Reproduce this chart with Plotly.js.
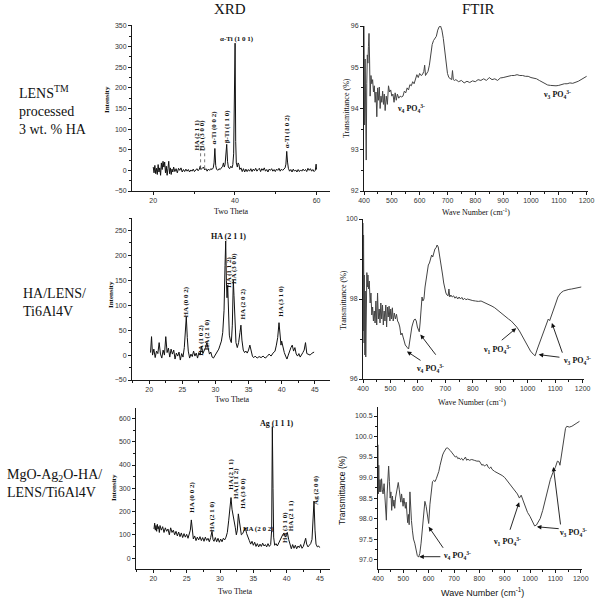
<!DOCTYPE html>
<html>
<head>
<meta charset="utf-8">
<script src="https://cdn.plot.ly/plotly-3.0.1.min.js"></script>
<style>
  body { margin: 0; background: #fff; }
  #plotArea { width: 600px; height: 602px; }
</style>
</head>
<body>
<div id="plotArea"></div>
<script>
// XRD, LENS processed 3 wt.% HA
var xrd1X = [20.0,20.2,20.4,20.6,20.8,21.0,21.2,21.4,21.6,21.8,22.0,22.2,22.4,22.6,22.8,23.0,23.2,23.4,23.6,23.8,24.0,24.2,24.4,24.6,24.8,25.0,25.3,25.6,25.9,26.2,26.5,26.8,27.1,27.4,27.7,28.0,28.3,28.6,28.9,29.2,29.5,29.8,30.1,30.4,30.7,31.0,31.3,31.5,31.7,32.0,32.3,32.6,32.9,33.2,33.5,33.8,34.1,34.4,34.7,34.9,35.1,35.3,35.5,35.8,36.1,36.4,36.7,37.0,37.2,37.4,37.6,37.8,38.0,38.2,38.4,38.7,39.0,39.3,39.5,39.7,39.9,40.05,40.2,40.35,40.6,40.8,41.0,41.2,41.5,41.8,42.1,42.4,42.7,43.0,43.3,43.6,43.9,44.2,44.5,44.8,45.1,45.4,45.7,46.0,46.3,46.6,46.9,47.2,47.5,47.8,48.1,48.4,48.7,49.0,49.3,49.6,49.9,50.2,50.5,50.8,51.1,51.4,51.7,52.0,52.3,52.5,52.7,52.9,53.1,53.4,53.7,54.0,54.3,54.6,54.9,55.2,55.5,55.8,56.1,56.4,56.7,57.0,57.3,57.6,57.9,58.2,58.5,58.8,59.1,59.4,59.7,59.9,60.0];
var xrd1Y = [8,-6,12,-8,5,-10,14,-4,6,-12,18,2,22,8,20,-6,10,-12,4,22,-8,6,-10,3,-4,8,-3,4,-6,5,0,6,-4,2,-3,3,-2,2,-4,1,-2,3,-3,0,4,-1,3,10,2,5,8,1,4,-2,3,0,4,2,6,18,53,12,3,0,4,2,6,10,18,8,14,35,63,22,8,4,10,6,14,40,150,308,70,18,8,18,14,2,6,-3,4,-4,3,-3,2,-2,4,-3,3,-1,5,-2,2,5,-3,4,0,6,-2,2,-4,3,0,4,-2,2,-3,3,0,5,-2,3,0,4,6,15,46,20,5,-2,2,-4,3,-2,1,-4,2,-3,1,-2,3,-1,2,-3,5,0,4,-2,2,-3,0,15,2];

// XRD, HA/LENS/Ti6Al4V
var xrd2X = [20.2,20.35,20.5,20.7,20.9,21.1,21.3,21.5,21.7,21.9,22.1,22.3,22.5,22.7,22.9,23.1,23.3,23.5,23.7,23.9,24.1,24.3,24.5,24.7,24.9,25.1,25.3,25.45,25.6,25.75,25.9,26.1,26.3,26.5,26.7,26.9,27.1,27.3,27.5,27.7,27.9,28.1,28.3,28.5,28.7,28.9,29.1,29.3,29.5,29.7,29.9,30.1,30.3,30.5,30.7,30.9,31.1,31.3,31.45,31.55,31.65,31.75,31.85,31.95,32.1,32.25,32.4,32.55,32.7,32.8,32.95,33.1,33.3,33.5,33.7,33.85,34.0,34.2,34.4,34.6,34.8,35.0,35.2,35.4,35.6,35.8,36.0,36.3,36.6,36.9,37.2,37.5,37.8,38.1,38.4,38.7,39.0,39.2,39.4,39.6,39.75,39.9,40.0,40.2,40.4,40.6,40.8,41.0,41.2,41.4,41.6,41.8,42.0,42.2,42.4,42.6,42.8,43.0,43.2,43.4,43.6,43.8,44.0,44.3,44.6,44.9];
var xrd2Y = [5,37,0,12,-5,8,3,25,2,-6,10,0,37,5,14,-4,12,2,10,-8,4,-2,6,-10,3,-4,15,45,77,35,8,-6,2,-3,8,-2,4,-6,5,0,18,3,8,15,25,10,2,6,-4,-6,-2,4,8,12,20,28,45,90,180,229,150,115,140,100,40,30,25,60,150,120,45,25,15,25,45,60,30,10,5,8,4,10,20,5,-3,-5,-2,-6,-3,-5,-2,-6,-3,2,-2,4,8,20,35,65,40,20,28,15,5,-2,-8,0,10,15,20,8,15,2,-2,3,-4,2,5,10,25,3,2,0,4,6];

// XRD, MgO-Ag2O-HA/LENS/Ti6Al4V
var xrd3X = [20.1,20.2,20.3,20.4,20.5,20.6,20.7,20.8,20.9,21.0,21.2,21.4,21.6,21.8,22.0,22.2,22.4,22.6,22.8,23.0,23.2,23.4,23.6,23.8,24.0,24.2,24.4,24.6,24.8,25.0,25.2,25.4,25.55,25.7,25.85,26.0,26.2,26.4,26.6,26.8,27.0,27.2,27.4,27.6,27.8,28.0,28.2,28.4,28.6,28.8,28.95,29.1,29.3,29.5,29.7,29.9,30.1,30.3,30.5,30.7,30.9,31.1,31.3,31.5,31.65,31.8,31.95,32.1,32.3,32.45,32.6,32.75,32.9,33.05,33.2,33.4,33.6,33.8,34.0,34.2,34.4,34.6,34.8,35.0,35.2,35.4,35.6,35.8,36.0,36.2,36.4,36.6,36.8,37.0,37.2,37.4,37.6,37.75,37.85,37.95,38.05,38.2,38.4,38.6,38.8,39.0,39.2,39.4,39.6,39.8,40.0,40.1,40.3,40.5,40.7,40.9,41.1,41.3,41.5,41.7,41.9,42.1,42.3,42.5,42.7,42.85,43.0,43.2,43.4,43.6,43.8,43.95,44.1,44.25,44.4,44.6,44.8,44.95];
var xrd3Y = [125,150,120,140,115,145,125,135,110,140,120,135,110,130,115,125,100,130,110,120,100,115,95,112,92,108,88,105,90,102,85,100,120,164,110,82,95,75,90,78,92,75,88,72,90,76,85,70,88,115,80,72,88,70,85,68,82,70,85,78,90,110,160,220,260,210,190,170,130,100,120,190,150,115,100,105,115,130,105,85,75,60,72,55,68,50,62,48,60,50,64,52,58,48,62,50,58,120,565,300,90,55,62,52,65,75,90,100,108,90,100,110,80,55,40,58,42,55,40,52,45,58,42,50,65,85,60,48,55,62,80,150,245,120,60,48,52,45];

// FTIR, LENS processed 3 wt.% HA
var ftir1X = [400,402,404,406,408,410,412,414,416,418,420,422,425,428,431,434,437,440,443,446,449,452,455,458,461,464,467,470,473,476,480,484,488,492,496,500,504,508,512,516,520,525,530,535,540,545,550,555,560,565,570,575,580,585,590,595,600,605,610,615,618,621,625,630,635,640,645,650,655,660,665,670,675,680,685,690,695,700,705,710,715,718,721,725,730,740,750,760,770,780,790,800,810,820,830,840,850,860,870,880,890,900,910,920,930,940,950,960,970,980,990,1000,1010,1020,1030,1040,1050,1060,1070,1080,1090,1100,1110,1120,1130,1140,1150,1160,1170,1180,1190,1200];
var ftir1Y = [96.0,93.6,95.2,93.0,92.75,94.6,95.3,95.1,95.5,95.82,95.2,94.3,94.8,94.6,94.7,94.4,94.55,94.15,94.4,93.8,94.5,94.2,94.52,94.0,94.3,94.15,94.42,94.1,94.35,93.95,94.3,94.1,94.55,94.4,94.45,94.3,94.35,94.15,94.38,94.2,94.35,94.25,94.3,94.28,94.3,94.42,94.38,94.5,94.45,94.58,94.55,94.65,94.6,94.72,94.82,94.75,94.85,94.8,94.82,94.9,95.05,94.8,94.85,94.9,95.05,95.3,95.55,95.65,95.7,95.75,95.9,95.98,96.0,95.9,95.7,95.4,95.1,94.85,94.75,94.72,94.7,94.92,94.7,94.68,94.7,94.65,94.68,94.62,94.66,94.63,94.67,94.65,94.7,94.68,94.72,94.68,94.75,94.7,94.72,94.68,94.74,94.75,94.77,94.78,94.8,94.8,94.82,94.8,94.8,94.78,94.78,94.75,94.74,94.72,94.68,94.64,94.6,94.57,94.56,94.55,94.55,94.56,94.58,94.6,94.6,94.62,94.61,94.63,94.66,94.7,94.75,94.78];

// FTIR, HA/LENS/Ti6Al4V
var ftir2X = [400,401,402,404,405,407,408,410,412,414,416,418,420,423,426,429,432,435,438,441,444,447,450,453,456,459,462,465,468,471,474,477,480,483,486,489,492,495,498,501,504,507,510,514,518,522,526,530,534,538,542,546,550,554,558,562,566,570,574,578,582,586,590,594,598,602,605,608,612,615,618,622,626,630,634,638,642,646,650,654,658,662,666,670,674,678,682,686,690,694,698,702,706,710,713,716,720,725,730,735,740,745,750,755,760,765,770,775,780,790,800,810,820,830,840,850,860,870,880,890,900,910,920,930,940,950,960,970,980,990,1000,1010,1020,1027,1035,1045,1055,1065,1075,1080,1085,1090,1100,1110,1120,1130,1140,1150,1160,1170,1180,1190,1195];
var ftir2Y = [99.9,97.2,99.6,96.9,98.6,96.6,98.2,96.55,98.3,98.66,98.3,98.6,98.25,98.45,97.9,98.15,97.6,97.8,97.45,97.7,97.4,97.95,97.35,98.15,97.5,97.75,97.4,97.9,97.5,97.85,97.35,97.7,97.45,97.85,97.3,97.8,97.55,97.82,97.45,97.75,97.5,97.78,97.45,97.65,97.5,97.62,97.45,97.4,97.3,97.1,97.15,97.0,96.95,96.85,96.8,96.78,96.75,96.95,97.2,97.3,97.4,97.48,97.5,97.45,97.3,97.2,97.18,97.4,97.7,98.05,97.95,98.0,98.3,98.5,98.7,98.85,98.9,99.0,99.1,99.05,99.2,99.25,99.28,99.35,99.3,99.15,99.0,98.8,98.6,98.4,98.25,98.15,98.1,98.08,98.25,98.05,98.1,98.05,98.08,98.02,98.06,98.0,98.05,98.0,98.04,97.98,98.02,97.98,98.0,97.97,97.96,97.95,97.94,97.95,97.92,97.9,97.85,97.82,97.78,97.72,97.66,97.6,97.55,97.5,97.45,97.38,97.3,97.2,97.07,96.95,96.82,96.7,96.62,96.58,96.75,96.95,97.15,97.35,97.5,97.46,97.55,97.65,97.85,98.05,98.15,98.2,98.23,98.24,98.25,98.26,98.27,98.29,98.3];

// FTIR, MgO-Ag2O-HA/LENS/Ti6Al4V
var ftir3X = [400,401,403,405,408,411,414,417,420,424,428,431,433,436,439,442,445,448,451,454,457,460,463,466,469,472,476,480,484,487,490,493,496,499,502,505,508,511,514,517,520,523,526,529,532,536,540,545,550,555,560,565,570,575,580,585,590,595,600,605,610,615,620,625,630,635,640,645,650,655,660,665,670,675,680,685,690,695,700,705,710,715,720,725,730,735,740,745,750,755,760,770,780,790,800,805,810,815,820,825,830,835,840,845,850,860,870,880,890,900,910,920,930,940,950,958,965,972,980,990,1000,1010,1018,1025,1030,1040,1050,1060,1070,1080,1090,1100,1108,1114,1118,1125,1132,1140,1145,1155,1165,1175,1185,1195];
var ftir3Y = [99.8,98.6,99.3,98.65,98.95,98.65,98.97,98.7,98.6,98.85,98.5,98.3,97.96,98.6,99.0,99.28,98.9,98.5,98.65,98.2,98.55,98.3,98.45,98.25,98.5,98.6,98.72,98.88,98.7,98.55,98.4,98.6,98.45,98.3,98.5,98.35,98.25,98.4,98.05,97.9,98.1,97.85,98.65,98.2,97.95,97.7,97.5,97.4,97.25,97.1,97.06,97.15,97.4,97.8,98.2,98.42,98.3,98.0,97.88,98.35,98.7,98.9,98.93,98.9,98.97,99.05,99.15,99.3,99.45,99.55,99.62,99.68,99.72,99.72,99.7,99.66,99.62,99.58,99.55,99.5,99.52,99.46,99.48,99.44,99.47,99.42,99.45,99.5,99.42,99.45,99.42,99.44,99.42,99.4,99.4,99.35,99.3,99.32,99.28,99.3,99.32,99.25,99.22,99.26,99.2,99.15,99.12,99.08,99.05,99.0,98.92,98.85,98.78,98.7,98.6,98.5,98.57,98.45,98.3,98.15,98.05,97.93,97.82,97.84,97.9,98.0,98.2,98.45,98.7,98.95,99.12,99.25,99.4,99.38,99.3,99.6,99.95,100.2,100.25,100.23,100.25,100.3,100.33,100.37];

var rowLabels = ['LENS<sup>TM</sup><br>processed<br>3 wt. % HA', 'HA/LENS/<br>Ti6Al4V', 'MgO-Ag<sub>2</sub>O-HA/<br>LENS/Ti6Al4V'];
var nu4 = 'ν<sub>4</sub> PO<sub>4</sub><sup>3-</sup>';
var nu1 = 'ν<sub>1</sub> PO<sub>4</sub><sup>3-</sup>';
var nu3 = 'ν<sub>3</sub> PO<sub>4</sub><sup>3-</sup>';

var W = 600, H = 602;
function px(x) { return x / W; }
function py(y) { return 1 - y / H; }

var ink = '#1a1a1a';
function axis(x0, x1, r, dtick, extra) {
  var a = {
    domain: [x0, x1], range: r, dtick: dtick, showline: true, linecolor: ink, linewidth: 1,
    ticks: 'outside', ticklen: 3, tickwidth: 1, tickcolor: ink, showgrid: false, zeroline: false,
    tickfont: { family: 'Liberation Sans, Arial', size: 7, color: '#333' },
    minor: { ticks: 'outside', ticklen: 2, tickcolor: ink, dtick: dtick / 2 },
    fixedrange: true
  };
  for (var k in extra) a[k] = extra[k];
  return a;
}

function line(x, y, xa, ya, col) {
  return { x: x, y: y, xaxis: xa, yaxis: ya, type: 'scatter', mode: 'lines',
           line: { color: col, width: 1 }, hoverinfo: 'skip' };
}

var data = [
  line(xrd1X, xrd1Y, 'x', 'y', '#111'),
  line(ftir1X, ftir1Y, 'x2', 'y2', '#444'),
  line(xrd2X, xrd2Y, 'x3', 'y3', '#111'),
  line(ftir2X, ftir2Y, 'x4', 'y4', '#444'),
  line(xrd3X, xrd3Y, 'x5', 'y5', '#111'),
  line(ftir3X, ftir3Y, 'x6', 'y6', '#444')
];

var serif = 'Liberation Serif, Times New Roman, serif';
var sans = 'Liberation Sans, Arial, sans-serif';
var ann = [];

function paperText(t, x, y, size, fam, angle, align) {
  ann.push({ text: t, x: px(x), y: py(y), xref: 'paper', yref: 'paper', showarrow: false,
             font: { family: fam, size: size, color: '#111' }, textangle: angle || 0,
             align: align || 'center', xanchor: align === 'left' ? 'left' : 'center', yanchor: 'middle' });
}
function peak(t, x, y, xa, ya, angle, size) {
  ann.push({ text: '<b>' + t + '</b>', x: x, y: y, xref: xa, yref: ya, showarrow: false,
             font: { family: serif, size: size || 7, color: '#111' }, textangle: angle, borderpad: 0 });
}
function arrow(x, y, ax, ay, xa, ya) {
  ann.push({ text: '', x: x, y: y, ax: ax, ay: ay, xref: xa, yref: ya, axref: xa, ayref: ya,
             showarrow: true, arrowhead: 2, arrowsize: 1, arrowwidth: 0.9, arrowcolor: '#111', standoff: 0 });
}

// column titles and row labels
paperText('XRD', 230, 9, 15, serif);
paperText('FTIR', 478, 9, 15, serif);
paperText(rowLabels[0], 17, 110, 14, serif, 0, 'left');
paperText(rowLabels[1], 21, 302, 14, serif, 0, 'left');
paperText(rowLabels[2], 5, 483, 14, serif, 0, 'left');

// axis titles
paperText('<b>Intensity</b>', 107, 100, 7, serif, -90);
paperText('<b>Intensity</b>', 111, 295, 7, serif, -90);
paperText('<b>Intensity</b>', 114, 488, 7, serif, -90);
paperText('Two Theta', 231, 212, 8, serif);
paperText('Two Theta', 233, 399, 8, serif);
paperText('Two Theta', 235, 591, 8, serif);
paperText('Transmittance (%)', 346, 108, 8, serif, -90);
paperText('Transmittance (%)', 344, 300, 8, serif, -90);
paperText('Transmittance (%)', 342, 490, 8.5, sans, -90);
paperText('Wave Number (cm<sup>-1</sup>)', 476, 212, 8, serif);
paperText('Wave Number (cm<sup>-1</sup>)', 472, 402, 8, serif);
paperText('Wave Number (cm<sup>-1</sup>)', 482, 592, 9, sans);

// XRD peak labels
peak('HA (2 1 1)', 30.8, 85, 'x', 'y', -90);
peak('HA (3 0 0)', 31.9, 85, 'x', 'y', -90);
peak('α-Ti (0 0 2)', 35.0, 105, 'x', 'y', -90);
peak('β-Ti (1 1 0)', 38.1, 107, 'x', 'y', -90);
peak('α-Ti (1 0 1)', 40.6, 318, 'x', 'y', 0);
peak('α-Ti (1 0 2)', 52.8, 95, 'x', 'y', -90);

peak('HA (2 1 1)', 31.9, 238, 'x3', 'y3', 0, 8);
peak('HA (0 0 2)', 25.5, 107, 'x3', 'y3', -90);
peak('HA (1 0 2)', 27.9, 30, 'x3', 'y3', -90);
peak('HA (2 1 0)', 28.75, 40, 'x3', 'y3', -90);
peak('HA (1 1 2)', 32.1, 166, 'x3', 'y3', -90);
peak('HA (3 0 0)', 32.9, 174, 'x3', 'y3', -90);
peak('HA (2 0 2)', 34.2, 102, 'x3', 'y3', -90);
peak('HA (3 1 0)', 39.9, 107, 'x3', 'y3', -90);

peak('HA (0 0 2)', 25.85, 261, 'x5', 'y5', -90);
peak('HA (2 1 0)', 28.9, 179, 'x5', 'y5', -90);
peak('HA (2 1 1)', 31.6, 361, 'x5', 'y5', -90);
peak('HA (1 1 2)', 32.5, 321, 'x5', 'y5', -90);
peak('HA (3 0 0)', 33.4, 279, 'x5', 'y5', -90);
peak('HA (2 0 2)', 35.75, 126, 'x5', 'y5', 0);
peak('Ag (1 1 1)', 38.5, 579, 'x5', 'y5', 0, 8);
peak('HA (3 1 0)', 39.65, 131, 'x5', 'y5', -90);
peak('HA (2 1 1)', 40.75, 183, 'x5', 'y5', -90);
peak('Ag (2 0 0)', 44.4, 293, 'x5', 'y5', -90);

// FTIR band labels and arrows
peak(nu4, 570, 94.0, 'x2', 'y2', 0, 8);
peak(nu3, 1092, 94.34, 'x2', 'y2', 0, 8);

peak(nu4, 645, 96.26, 'x4', 'y4', 0, 8);
peak(nu1, 888, 96.73, 'x4', 'y4', 0, 8);
peak(nu3, 1179, 96.47, 'x4', 'y4', 0, 8);
arrow(560, 96.69, 615, 96.44, 'x4', 'y4');
arrow(609, 97.11, 669, 96.57, 'x4', 'y4');
arrow(958, 97.27, 900, 96.94, 'x4', 'y4');
arrow(1040, 96.61, 1121, 96.54, 'x4', 'y4');
arrow(1088, 97.4, 1128, 96.62, 'x4', 'y4');

peak(nu4, 711, 97.1, 'x6', 'y6', 0, 8);
peak(nu1, 909, 97.45, 'x6', 'y6', 0, 8);
peak(nu3, 1171, 97.66, 'x6', 'y6', 0, 8);
arrow(563, 97.07, 652, 97.07, 'x6', 'y6');
arrow(600, 97.8, 661, 97.25, 'x6', 'y6');
arrow(957, 98.4, 919, 97.69, 'x6', 'y6');
arrow(1027, 97.8, 1119, 97.75, 'x6', 'y6');
arrow(1092, 99.26, 1121, 97.82, 'x6', 'y6');

// dotted guides under the HA labels of the first XRD panel
var shapes = [31.6, 32.6].map(function (v) {
  return { type: 'line', xref: 'x', yref: 'y', x0: v, x1: v, y0: 5, y1: 55,
           line: { color: '#555', width: 0.8, dash: 'dot' } };
});

var layout = {
  width: W, height: H, margin: { l: 0, r: 0, t: 0, b: 0 },
  paper_bgcolor: '#fff', plot_bgcolor: 'rgba(0,0,0,0)', showlegend: false,
  xaxis:  axis(px(132), px(330), [14.8, 63.3], 20, { anchor: 'y' }),
  yaxis:  axis(py(191), py(25), [-50, 352], 50, { anchor: 'x' }),
  xaxis2: axis(px(364), px(588), [400, 1205], 100, { anchor: 'y2' }),
  yaxis2: axis(py(191), py(26), [92, 96], 1, { anchor: 'x2' }),
  xaxis3: axis(px(132), px(330), [17.4, 47.3], 5, { anchor: 'y3' }),
  yaxis3: axis(py(380), py(218), [-50, 275], 50, { anchor: 'x3' }),
  xaxis4: axis(px(363), px(584), [400, 1205], 100, { anchor: 'y4' }),
  yaxis4: axis(py(379), py(219), [96, 100], 2, { anchor: 'x4' }),
  xaxis5: axis(px(136), px(330), [17.4, 46.5], 5, { anchor: 'y5' }),
  yaxis5: axis(py(569), py(408), [-47, 645], 100, { anchor: 'x5', tick0: 0 }),
  xaxis6: axis(px(378), px(582), [400, 1205], 100, { anchor: 'y6' }),
  yaxis6: axis(py(569), py(407), [96.77, 100.72], 0.5, { anchor: 'x6', tick0: 97, tickformat: '.1f' }),
  annotations: ann,
  shapes: shapes
};

Plotly.newPlot('plotArea', data, layout, { displayModeBar: false, staticPlot: true });
</script>
</body>
</html>
